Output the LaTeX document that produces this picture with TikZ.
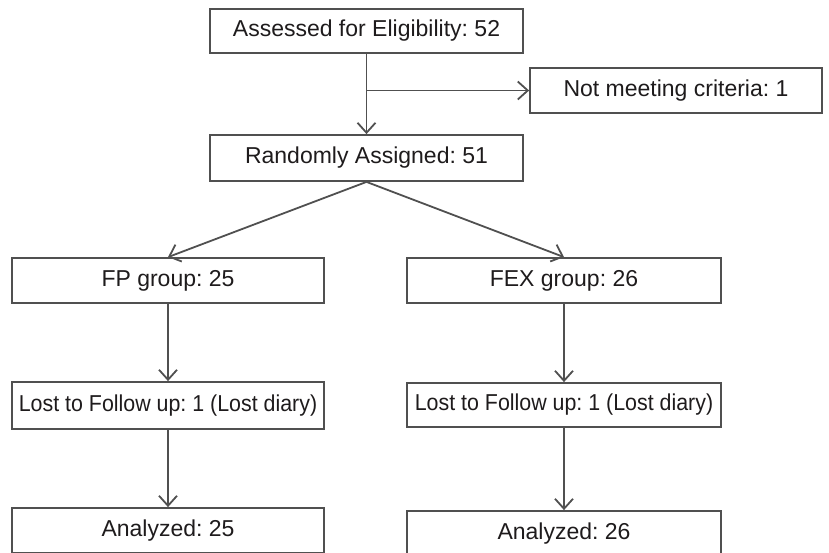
\documentclass[tikz,border=0pt]{standalone}
\usepackage{fontspec}
\setmainfont{Liberation Sans}
\newfontfamily\narrowfont[FakeStretch=0.93]{Liberation Sans}
\usetikzlibrary{arrows.meta, positioning}
\definecolor{linegray}{RGB}{80,80,80}
\definecolor{inkblack}{RGB}{30,27,28}
\frenchspacing

\begin{document}
\begin{tikzpicture}[x=1pt, y=-1pt,
        box/.style={draw=linegray, line width=1.8pt, inner sep=0pt, text=inkblack,
                    minimum width=313pt, minimum height=45pt,
                    font=\fontsize{23}{27}\selectfont},
        arr/.style={draw=linegray, line width=1.8pt,
                    -{Straight Barb[length=10pt, width=18pt, line width=1.8pt]}}
      ]
      \useasboundingbox (0,0) rectangle (829,552);
      \node[box, minimum height=44pt] (assess) at (366.5,31) {Assessed for Eligibility: 52};
      \node[box, minimum width=292pt] (notmeet) at (676,90.5) {Not meeting criteria: 1};
      \node[box, minimum height=46pt] (rand) at (366.5,158) {Randomly Assigned: 51};
      \node[box, minimum width=312pt] (fp) at (168,280.5) {FP group: 25};
      \node[box, minimum width=314pt] (fex) at (564,280.5) {FEX group: 26};
      \node[box, minimum width=312pt, minimum height=47pt,
            font=\narrowfont\fontsize{23}{27}\selectfont] (lostfp) at (168,405.5)
            {Lost to Follow up: 1 (Lost diary)};
      \node[box, minimum width=314pt, minimum height=44pt,
            font=\narrowfont\fontsize{23}{27}\selectfont] (lostfex) at (564,405)
            {Lost to Follow up: 1 (Lost diary)};
      \node[box, minimum width=312pt] (anfp) at (168,530.5) {Analyzed: 25};
      \node[box, minimum width=314pt] (anfex) at (564,533.5) {Analyzed: 26};
      \coordinate (split) at (assess.south |- notmeet.west);
      \draw[arr] (assess) -- (rand);
      \draw[arr] (split) -- (notmeet.west);
      \draw[arr] (rand.south) -- (fp.north);
      \draw[arr] (rand.south) -- (fex.north);
      \draw[arr] (fp) -- (lostfp);
      \draw[arr] (fex) -- (lostfex);
      \draw[arr] (lostfp) -- (anfp);
      \draw[arr] (lostfex) -- (anfex);
    \end{tikzpicture}
\end{document}
